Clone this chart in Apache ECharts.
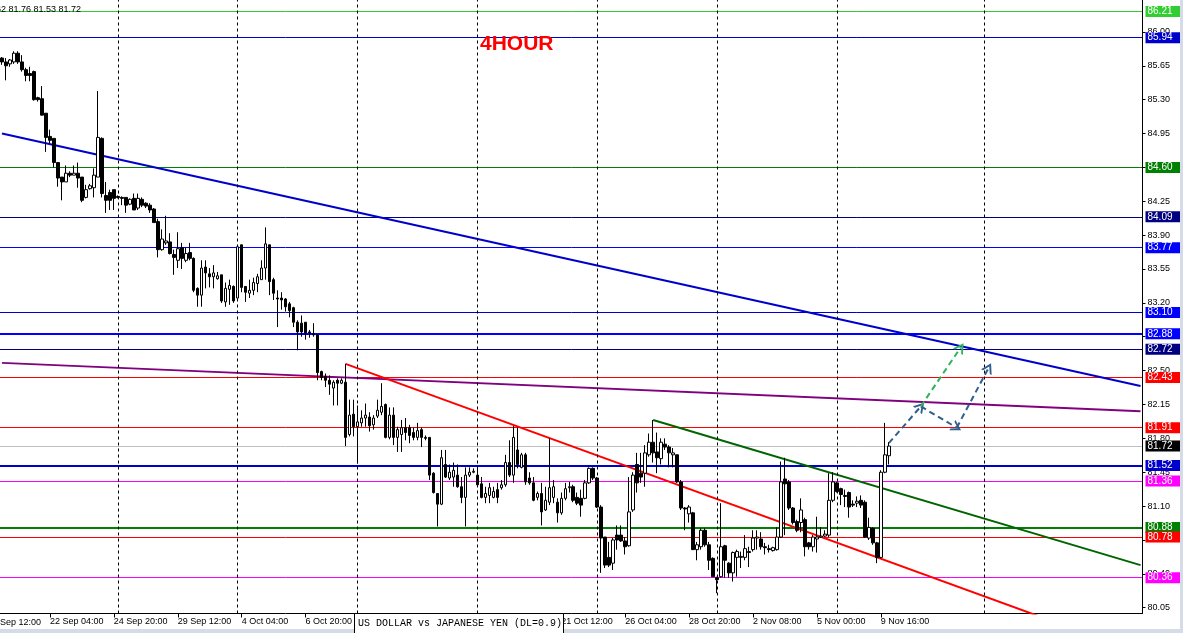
<!DOCTYPE html>
<html><head><meta charset="utf-8">
<script src="https://cdn.jsdelivr.net/npm/echarts@6/dist/echarts.min.js"></script>
<style>html,body{margin:0;padding:0;background:#fff;}#c{width:1183px;height:633px;}</style>
</head><body><div id="c"></div>
<script>
// ---- DATA (USDJPY, H4) ----
const opens = [85.73,85.69,85.67,85.69,85.78,85.69,85.61,85.57,85.59,85.32,
85.31,85.16,84.92,84.90,84.65,84.50,84.45,84.54,84.52,84.54,
84.50,84.29,84.38,84.39,84.50,84.90,84.31,84.34,84.37,84.30,
84.29,84.29,84.22,84.28,84.18,84.27,84.23,84.21,84.17,84.04,
83.75,83.82,83.83,83.70,83.64,83.77,83.64,83.72,83.66,83.35,
83.28,83.57,83.50,83.47,83.45,83.49,83.21,83.34,83.37,83.25,
83.80,83.37,83.30,83.33,83.40,83.44,83.56,83.80,83.44,83.25,
83.25,83.24,83.19,83.15,83.00,82.99,83.00,82.90,82.88,82.87,
82.49,82.44,82.40,82.32,82.40,82.37,82.38,81.84,82.05,81.92,
81.96,82.01,82.02,81.94,82.03,82.07,82.15,81.81,82.04,81.81,
81.84,81.91,81.91,81.86,81.81,81.89,81.81,81.81,81.44,81.23,
81.12,81.53,81.39,81.40,81.42,81.30,81.19,81.42,81.45,81.42,
81.33,81.19,81.21,81.19,81.27,81.29,81.32,81.55,81.42,81.68,
81.50,81.63,81.39,81.34,81.19,81.23,81.06,81.14,81.19,81.14,
81.03,81.18,81.29,81.30,81.19,81.18,81.18,81.34,81.49,81.39,
81.09,80.78,80.57,80.51,80.80,80.80,80.74,80.69,81.06,81.53,
81.44,81.44,81.63,81.76,81.66,81.59,81.74,81.71,81.63,81.63,
81.35,81.08,81.02,81.03,80.65,80.68,80.85,80.70,80.56,80.36,
80.37,80.69,80.51,80.41,80.57,80.57,80.57,80.63,80.65,80.77,
80.76,80.68,80.66,80.64,80.65,80.78,81.38,81.35,81.08,80.94,
80.93,80.96,80.72,80.68,80.76,80.78,80.79,80.80,81.16,81.34,
81.28,81.21,81.24,81.12,81.13,81.16,81.14,80.77,80.87,80.72,
80.57,81.45,81.62];
const closes = [85.69,85.65,85.71,85.78,85.69,85.61,85.55,85.55,85.30,85.30,
85.14,84.91,84.88,84.65,84.49,84.45,84.54,84.52,84.54,84.49,
84.26,84.37,84.41,84.52,84.91,84.33,84.26,84.26,84.28,84.29,
84.28,84.21,84.27,84.16,84.28,84.21,84.20,84.16,84.03,83.75,
83.86,83.84,83.71,83.67,83.76,83.66,83.71,83.66,83.33,83.28,
83.56,83.51,83.47,83.51,83.48,83.22,83.35,83.38,83.22,83.78,
83.36,83.31,83.33,83.41,83.47,83.56,83.81,83.42,83.30,83.24,
83.23,83.16,83.12,83.00,82.90,82.90,82.89,82.89,82.87,82.48,
82.43,82.40,82.36,82.38,82.37,82.40,81.81,82.04,81.92,81.97,
82.01,82.04,81.93,82.01,82.09,82.13,81.81,82.04,81.81,81.89,
81.91,81.86,81.83,81.81,81.88,81.81,81.80,81.42,81.24,81.12,
81.60,81.40,81.45,81.47,81.30,81.19,81.42,81.45,81.46,81.32,
81.19,81.23,81.29,81.25,81.19,81.32,81.55,81.42,81.81,81.53,
81.63,81.35,81.34,81.16,81.23,81.04,81.16,81.29,81.30,81.03,
81.18,81.28,81.30,81.16,81.13,81.11,81.34,81.49,81.39,81.09,
80.77,80.49,80.49,80.75,80.75,80.74,80.68,81.04,81.42,81.34,
81.40,81.65,81.76,81.65,81.60,81.76,81.71,81.65,81.65,81.35,
81.08,81.07,81.09,80.65,80.70,80.85,80.70,80.54,80.37,80.34,
80.68,80.54,80.41,80.62,80.63,80.58,80.66,80.62,80.77,80.78,
80.68,80.67,80.65,80.67,80.78,81.35,81.33,81.08,80.93,80.85,
81.06,80.68,80.68,80.78,80.78,80.79,80.81,81.16,81.35,81.25,
81.22,81.20,81.09,81.11,81.15,81.11,80.78,80.88,80.72,80.57,
81.45,81.63,81.72];
const lows = [85.66,85.50,85.64,85.67,85.67,85.59,85.49,85.49,85.29,85.28,
85.14,84.76,84.85,84.60,84.40,84.26,84.45,84.50,84.52,84.39,
84.24,84.28,84.37,84.29,84.50,84.29,84.13,84.16,84.16,84.28,
84.21,84.13,84.21,84.16,84.16,84.19,84.18,84.13,84.03,83.67,
83.74,83.80,83.70,83.49,83.56,83.55,83.62,83.64,83.31,83.16,
83.16,83.35,83.36,83.35,83.44,83.20,83.16,83.18,83.20,83.25,
83.31,83.21,83.25,83.28,83.31,83.44,83.44,83.28,83.23,82.95,
83.13,83.11,83.05,82.95,82.71,82.85,82.82,82.84,82.85,82.40,
82.40,82.33,82.25,82.14,82.14,82.36,81.72,81.82,81.82,81.54,
81.92,81.92,81.87,81.89,82.01,82.04,81.80,81.79,81.73,81.66,
81.66,81.78,81.75,81.78,81.78,81.71,81.78,81.37,81.23,80.89,
81.11,81.39,81.37,81.30,81.29,81.13,80.89,81.40,81.44,81.30,
81.18,81.13,81.13,81.18,81.13,81.27,81.30,81.40,81.34,81.49,
81.49,81.32,81.32,81.15,81.16,80.90,81.05,81.11,81.13,80.93,
81.01,81.16,81.24,81.14,81.11,80.99,81.17,81.33,81.37,81.08,
80.41,80.46,80.47,80.44,80.65,80.73,80.60,80.68,81.04,81.24,
81.34,81.30,81.61,81.55,81.44,81.53,81.68,81.50,81.50,81.34,
81.06,80.85,80.93,80.65,80.54,80.65,80.68,80.44,80.37,80.20,
80.36,80.36,80.36,80.32,80.37,80.46,80.54,80.47,80.63,80.65,
80.65,80.60,80.62,80.63,80.64,80.77,80.80,81.06,80.91,80.83,
80.83,80.58,80.65,80.63,80.62,80.77,80.78,80.78,81.14,81.24,
81.11,81.09,80.98,81.09,81.09,81.08,80.77,80.75,80.70,80.51,
80.56,81.44,81.53];
const highs = [85.74,85.73,85.72,85.80,85.80,85.76,85.63,85.64,85.60,85.33,
85.44,85.16,84.99,84.90,84.65,84.50,84.62,84.56,84.62,84.65,
84.50,84.42,84.43,84.59,85.39,84.91,84.45,84.37,84.37,84.31,
84.30,84.29,84.28,84.33,84.33,84.29,84.24,84.23,84.18,84.07,
83.96,84.10,83.92,83.75,83.93,83.82,83.77,83.82,83.67,83.36,
83.64,83.64,83.56,83.59,83.52,83.49,83.41,83.44,83.38,83.80,
83.80,83.37,83.44,83.46,83.50,83.64,83.98,83.80,83.46,83.33,
83.31,83.25,83.21,83.16,83.02,83.07,83.00,82.92,82.99,82.87,
82.50,82.47,82.45,82.40,82.42,82.42,82.57,82.20,82.20,82.14,
82.09,82.16,82.07,82.04,82.20,82.37,82.16,82.12,82.12,81.92,
81.99,82.01,81.94,81.91,81.96,81.91,81.83,81.81,81.45,81.23,
81.68,81.68,81.53,81.55,81.53,81.40,81.50,81.50,81.49,81.50,
81.40,81.30,81.34,81.30,81.34,81.37,81.63,81.78,81.93,81.91,
81.65,81.65,81.45,81.40,81.25,81.34,81.30,81.80,81.37,81.18,
81.24,81.34,81.35,81.32,81.24,81.27,81.37,81.50,81.50,81.40,
81.11,80.78,80.73,80.77,80.90,80.90,80.78,81.40,81.45,81.65,
81.65,81.73,81.85,81.99,81.86,81.80,81.80,81.73,81.70,81.63,
81.37,81.09,81.11,81.04,80.73,80.87,80.87,80.73,80.57,80.37,
81.13,80.70,80.52,80.63,80.65,80.63,80.80,80.68,80.85,80.85,
80.83,80.72,80.70,80.68,80.88,81.56,81.60,81.37,81.09,80.96,
81.18,80.98,80.73,80.80,80.99,80.88,80.85,81.44,81.45,81.35,
81.29,81.27,81.25,81.16,81.20,81.21,81.16,80.98,80.88,80.73,
81.47,81.96,81.76];

const slotCount = 286; // bars + empty future slots
const xTickBars = [12, 28, 44, 60, 76, 92, 108, 124, 140, 156, 172, 188, 204, 220];
const xTickLabels = ['22 Sep 04:00','24 Sep 20:00','29 Sep 12:00','4 Oct 04:00','6 Oct 20:00',
  '11 Oct 12:00','14 Oct 04:00','18 Oct 20:00','21 Oct 12:00','26 Oct 04:00','28 Oct 20:00',
  '2 Nov 08:00','5 Nov 00:00','9 Nov 16:00'];
const firstLabel = '17 Sep 12:00';
const yTickValues = [80.05,80.40,80.75,81.10,81.45,81.80,82.15,82.50,82.85,83.20,83.55,83.90,84.25,84.60,84.95,85.30,85.65,86.00];
const levelValues = [86.21,85.94,84.60,84.09,83.77,83.10,82.88,82.72,82.43,81.91,81.72,81.52,81.36,80.88,80.78,80.36];
const weekBars = [29, 59, 89, 119, 149, 179, 209, 246];
const trendBlue = [[0, 84.95], [285, 82.34]];
const trendPurple = [[0, 82.58], [285, 82.08]];
const trendRed = [[86, 82.57], [285, 79.58]];
const trendGreen = [[163, 81.99], [285, 80.49]];
const arrowBluePath = [[222, 81.75], [230, 82.13], [239, 81.91], [247, 82.53]];
const arrowGreenPath = [[230, 82.13], [240, 82.74]];
const headerText = 'USDJPY,H4  81.62 81.76 81.53 81.72';
const titleText = '4HOUR';
const boxText = 'US DOLLAR vs JAPANESE YEN (DL=0.9)';

// ---- STYLES ----
// [line colour, line width, label background] per level, same order as levelValues
const levelStyles = [
  ['#32cd32',1,'#32cd32'], ['#0000cd',1,'#0000cd'], ['#008000',1,'#008000'], ['#000080',1,'#000080'],
  ['#0000ff',1,'#0000ff'], ['#0000cd',1,'#0000ff'], ['#0000ff',2,'#0000ff'], ['#000080',1,'#000080'],
  ['#ff0000',1,'#ff0000'], ['#ff0000',1,'#ff0000'], ['#c0c0c0',1,'#000000'], ['#0000cd',2,'#0000cd'],
  ['#ff00ff',1,'#ff00ff'], ['#008000',2,'#008000'], ['#ff0000',1,'#ff0000'], ['#ff00ff',1,'#ff00ff']
];
const FONT = '"Liberation Sans", Arial, sans-serif';
const Y_MIN = 79.99, Y_MAX = 86.33;

const categories = Array.from({length: slotCount}, (_, i) => String(i));
const tickMap = {};
xTickBars.forEach((b, k) => { tickMap[b] = xTickLabels[k]; });
const candles = opens.map((o, i) => [o, closes[i], lows[i], highs[i]]);
const chevron = 'path://M0,8 L5,0 L10,8 L8.2,8 L5,3 L1.8,8 Z';

const arrowSegs = [];
for (let k = 0; k < arrowBluePath.length - 1; k++) arrowSegs.push([arrowBluePath[k], arrowBluePath[k+1], '#2f5f8f']);
for (let k = 0; k < arrowGreenPath.length - 1; k++) arrowSegs.push([arrowGreenPath[k], arrowGreenPath[k+1], '#2db35a']);

// level lines drawn as (pixel-crisp) split lines of hidden overlay axes, grouped by line width
function levelGroup(width) {
  const idx = levelValues.map((v, k) => k).filter(k => levelStyles[k][1] === width)
    .sort((a, b) => levelValues[a] - levelValues[b]);
  return {values: idx.map(k => levelValues[k]), colors: idx.map(k => levelStyles[k][0])};
}
function levelAxis(width) {
  const g = levelGroup(width);
  return {
    type: 'value', position: 'right', min: Y_MIN, max: Y_MAX, scale: true,
    axisLine: {show: false}, axisLabel: {show: false},
    axisTick: {show: false, customValues: g.values},
    splitLine: {show: true, showMinLine: true, showMaxLine: true, lineStyle: {color: g.colors, width: width, type: 'solid'}}
  };
}

const chart = echarts.init(document.getElementById('c'), null, {renderer: 'canvas'});
const tickInt = (i) => tickMap[i] !== undefined;

const option = {
  animation: false,
  backgroundColor: '#ffffff',
  grid: {left: -2, right: 40.5, top: 0, bottom: 19.5, containLabel: false},
  xAxis: {
    type: 'category', data: categories, boundaryGap: true,
    axisLine: {show: true, onZero: false, lineStyle: {color: '#000', width: 1}},
    axisTick: {show: true, alignWithLabel: true, interval: tickInt, length: 4, lineStyle: {color: '#000'}},
    axisLabel: {show: true, interval: tickInt, formatter: (v, i) => tickMap[i] || '', align: 'left',
      padding: 0, margin: 4, color: '#000', fontSize: 9, fontFamily: FONT},
    splitLine: {show: false}
  },
  yAxis: [
    {
      type: 'value', position: 'right', min: Y_MIN, max: Y_MAX, scale: true,
      axisLine: {show: true, lineStyle: {color: '#000', width: 1}},
      axisTick: {show: true, length: 3, customValues: yTickValues, lineStyle: {color: '#000'}},
      axisLabel: {show: true, customValues: yTickValues, formatter: v => Number(v).toFixed(2), margin: 5,
        color: '#000', fontSize: 9, fontFamily: FONT},
      splitLine: {show: false}
    },
    levelAxis(1),
    levelAxis(2)
  ],
  series: [
    {
      type: 'candlestick', data: candles, barWidth: 3, clip: false, silent: true, z: 5,
      itemStyle: {color: '#ffffff', color0: '#000000', borderColor: '#000000', borderColor0: '#000000', borderColorDoji: '#000000', borderWidth: 1}
    },
    {
      type: 'line', data: trendBlue, showSymbol: false, silent: true, z: 4,
      lineStyle: {color: '#0000cd', width: 2},
      markLine: {
        silent: true, symbol: ['none','none'], animation: false,
        label: {show: false},
        lineStyle: {color: '#000', width: 1, type: [3,3]},
        data: weekBars.map(b => ({xAxis: b}))
      }
    },
    {
      type: 'line', data: trendPurple, showSymbol: false, silent: true, z: 4,
      lineStyle: {color: '#800080', width: 2},
      markLine: {
        silent: true, symbol: ['none', chevron], symbolSize: [12, 10], animation: false,
        label: {show: false},
        data: arrowSegs.map(s => [
          {coord: s[0], lineStyle: {color: s[2], width: 2, type: [6,4]}, itemStyle: {color: s[2]}},
          {coord: s[1], itemStyle: {color: s[2]}}
        ])
      }
    },
    {type: 'line', data: trendRed, showSymbol: false, silent: true, z: 4, lineStyle: {color: '#ff0000', width: 2}},
    {type: 'line', data: trendGreen, showSymbol: false, silent: true, z: 4, lineStyle: {color: '#006400', width: 2}},
    {
      // carrier for the price labels of the horizontal levels (its own line is invisible)
      type: 'line', data: levelValues.map(v => [0, v]), showSymbol: false, silent: true, z: 6, clip: false,
      lineStyle: {opacity: 0},
      markLine: {
        silent: true, symbol: ['none','none'], animation: false, precision: 2,
        data: levelValues.map((v, k) => ({
          yAxis: v,
          lineStyle: {color: 'rgba(0,0,0,0)', width: 1},
          label: {show: true, position: 'end', distance: 3, formatter: v.toFixed(2),
            backgroundColor: levelStyles[k][2], color: '#ffffff', fontSize: 10, fontFamily: FONT,
            padding: [1,2,0,2], width: 33, lineHeight: 10}
        }))
      }
    }
  ],
  graphic: [
    {type: 'text', z: 50, style: {text: titleText, x: 480, y: 44, fill: '#ff0000', font: 'bold 21px ' + FONT, textVerticalAlign: 'middle'}},
    {type: 'text', z: 50, style: {text: headerText, x: 81, y: 10, fill: '#000', font: '9px ' + FONT, textAlign: 'right', textVerticalAlign: 'middle'}},
    {type: 'text', z: 50, style: {text: firstLabel, x: 41, y: 622.5, fill: '#000', font: '9px ' + FONT, textAlign: 'right', textVerticalAlign: 'middle'}},
    {type: 'rect', z: 60, shape: {x: 354.5, y: 613.5, width: 209, height: 20}, style: {fill: '#ffffff', stroke: '#000000', lineWidth: 1}},
    {type: 'text', z: 61, style: {text: boxText, x: 358, y: 623.5, fill: '#000', font: '10px "Liberation Mono", monospace', textVerticalAlign: 'middle'}},
    {type: 'rect', z: 40, shape: {x: 0, y: 629, width: 1183, height: 4}, style: {fill: '#d5dce8'}},
    {type: 'rect', z: 40, shape: {x: 1180, y: 0, width: 3, height: 633}, style: {fill: '#d5dce8'}}
  ]
};
chart.setOption(option);
</script>
</body></html>
